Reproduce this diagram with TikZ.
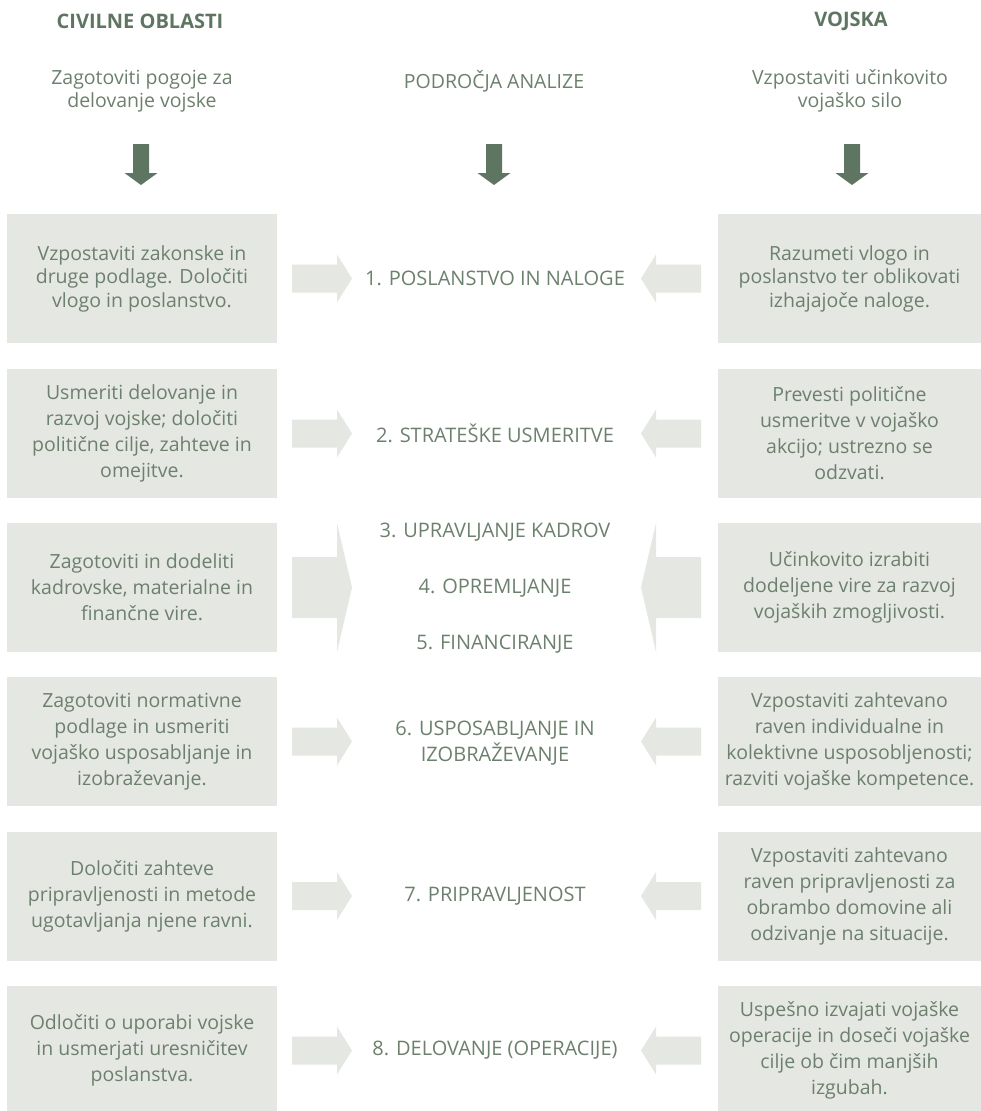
\documentclass[tikz,border=0pt]{standalone}
\usepackage{fontspec}
\setmainfont{Open Sans}
\definecolor{boxc}{HTML}{E5E7E3}
\definecolor{textc}{HTML}{6C806D}
\definecolor{darkc}{HTML}{5E7561}
\newcommand\rowarrows[3]{%
  \fill[boxc] (292,#1-#2) -- (337,#1-#2) -- (337,#1-#3) -- (352,#1) -- (337,#1+#3) -- (337,#1+#2) -- (292,#1+#2) -- cycle;
  \fill[boxc] (701,#1-#2) -- (656,#1-#2) -- (656,#1-#3) -- (641,#1) -- (656,#1+#3) -- (656,#1+#2) -- (701,#1+#2) -- cycle;}
\newcommand\dnarrow[1]{%
  \fill[darkc] (#1-8,144) -- (#1+8,144) -- (#1+8,173) -- (#1+16.5,173) -- (#1,185) -- (#1-16.5,173) -- (#1-8,173) -- cycle;}
\begin{document}
\begin{tikzpicture}[x=1pt,y=-1pt,
  txt/.style={text=textc, font=\fontsize{19.5}{23.5}\selectfont, align=center, inner sep=0pt},
  wide/.style={font=\fontsize{19.5}{26}\selectfont},
  ctxt/.style={txt, font=\fontsize{20}{26}\selectfont},
  title/.style={text=darkc, font=\fontsize{20}{24}\selectfont\bfseries, inner sep=0pt},
  lbox/.style={txt, wide, fill=boxc, minimum width=270pt, minimum height=129pt},
  rbox/.style={txt, wide, fill=boxc, minimum width=263pt, minimum height=129pt},
  tight/.style={font=\fontsize{19.5}{23.5}\selectfont}]
\useasboundingbox (0,0) rectangle (981,1111);

% headers
\node[title] (hl) at (140,21) {CIVILNE OBLASTI};
\node[title] (hr) at (851,21) {VOJSKA};
\node[txt] (sl) at (142,91) {Zagotoviti pogoje za\\delovanje vojske};
\node[txt] (sc) at (494,81) {PODROČJA ANALIZE};
\node[txt] (sr) at (850,91) {Vzpostaviti učinkovito\\vojaško silo};
\dnarrow{141}
\dnarrow{494}
\dnarrow{852}

% left boxes
\node[lbox, tight] (L1) at (142,278.5) {Vzpostaviti zakonske in\\druge podlage. Določiti\\vlogo in poslanstvo.};
\node[lbox] (L2) at (142,433.5) {Usmeriti delovanje in\\razvoj vojske; določiti\\politične cilje, zahteve in\\omejitve.};
\node[lbox] (L3) at (142,587.5) {Zagotoviti in dodeliti\\kadrovske, materialne in\\finančne vire.};
\node[lbox] (L4) at (142,741.5) {Zagotoviti normativne\\podlage in usmeriti\\vojaško usposabljanje in\\izobraževanje.};
\node[lbox] (L5) at (142,896) {Določiti zahteve\\pripravljenosti in metode\\ugotavljanja njene ravni.};
\node[lbox] (L6) at (142,1050.5) {Odločiti o uporabi vojske\\in usmerjati uresničitev\\poslanstva.};

% right boxes
\node[rbox, tight] (R1) at (849.5,278.5) {Razumeti vlogo in\\poslanstvo ter oblikovati\\izhajajoče naloge.};
\node[rbox] (R2) at (849.5,433.5) {Prevesti politične\\usmeritve v vojaško\\akcijo; ustrezno se\\odzvati.};
\node[rbox] (R3) at (849.5,587.5) {Učinkovito izrabiti\\dodeljene vire za razvoj\\vojaških zmogljivosti.};
\node[rbox] (R4) at (849.5,741.5) {Vzpostaviti zahtevano\\raven individualne in\\kolektivne usposobljenosti;\\razviti vojaške kompetence.};
\node[rbox] (R5) at (849.5,896) {Vzpostaviti zahtevano\\raven pripravljenosti za\\obrambo domovine ali\\odzivanje na situacije.};
\node[rbox] (R6) at (849.5,1050.5) {Uspešno izvajati vojaške\\operacije in doseči vojaške\\cilje ob čim manjših\\izgubah.};

% arrows
\rowarrows{278.5}{14}{24}
\rowarrows{433.5}{14}{24}
\rowarrows{587.5}{30.5}{64.5}
\rowarrows{741.5}{14}{24}
\rowarrows{896}{14}{24}
\rowarrows{1050.5}{14}{24}

% centre texts
\node[ctxt] (C1) at (495,278.5) {1. POSLANSTVO IN NALOGE};
\node[ctxt] (C2) at (495,433.5) {2. STRATEŠKE USMERITVE};
\node[ctxt] (C3) at (495,532) {3. UPRAVLJANJE KADROV};
\node[ctxt] (C4) at (495,588) {4. OPREMLJANJE};
\node[ctxt] (C5) at (495,644) {5. FINANCIRANJE};
\node[ctxt] (C6) at (495,743) {6. USPOSABLJANJE IN\\IZOBRAŽEVANJE};
\node[ctxt] (C7) at (495,896) {7. PRIPRAVLJENOST};
\node[ctxt] (C8) at (495,1050.5) {8. DELOVANJE (OPERACIJE)};
\end{tikzpicture}
\end{document}
